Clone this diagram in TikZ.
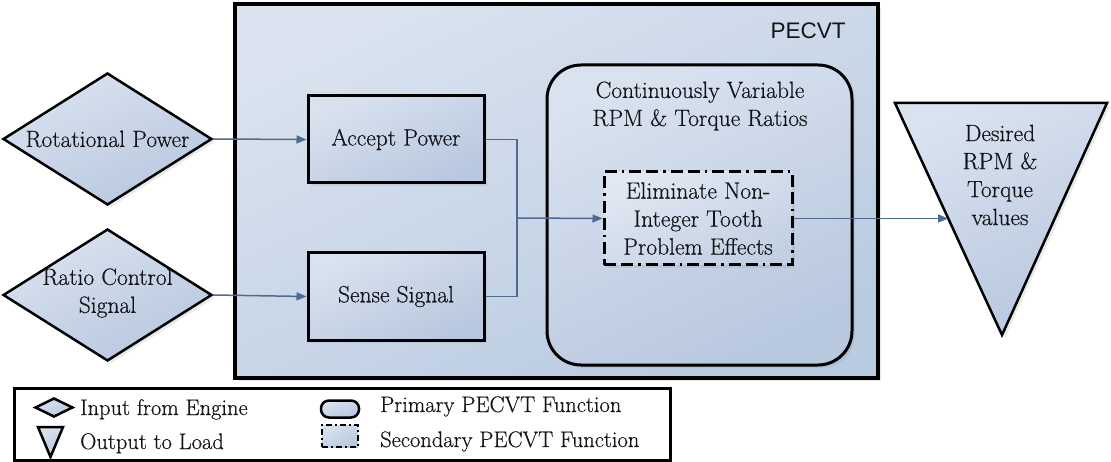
\documentclass[tikz,border=0pt]{standalone}
\usepackage{fontspec}
\newfontfamily\serifface{Latin Modern Roman}[UprightFeatures={FakeBold=0.45}]
\newfontfamily\sansface{Liberation Sans}
\usetikzlibrary{shapes.geometric,arrows.meta,calc,shadows}
\definecolor{fillhi}{HTML}{D9E2EF}
\definecolor{filllo}{HTML}{B8C8DF}
\definecolor{panelhi}{HTML}{DAE3EF}
\definecolor{panello}{HTML}{B9CBE1}
\definecolor{conn}{HTML}{4E6A92}
\definecolor{ink}{HTML}{141418}
\begin{document}
\begin{tikzpicture}[x=1pt,y=-1pt,
  font=\serifface\fontsize{23.5}{28}\selectfont, text=ink,
  shapefill/.style={top color=fillhi,bottom color=filllo,shading angle=25},
  softshadow/.style={drop shadow={opacity=0.16,shadow xshift=3pt,shadow yshift=-3pt}},
  funcbox/.style={rectangle,draw=black,line width=3pt,shapefill,softshadow,
    minimum width=176pt,minimum height=87pt,inner sep=0pt,align=center},
  inputdia/.style={diamond,draw=black,line width=2.5pt,shapefill,softshadow,
    minimum width=209pt,minimum height=132pt,inner sep=0pt},
  dashdot/.style={dash pattern=on 12pt off 5pt on 12pt off 5pt on 2.5pt off 5pt},
  flow/.style={draw=conn,line width=1.5pt},
  flowarrow/.style={flow,-{Triangle[length=10pt,width=8pt]}},
  legendtext/.style={anchor=base west,font=\serifface\fontsize{22.5}{26}\selectfont,inner sep=0pt},
]
% canvas
\useasboundingbox[fill=white] (0,0) rectangle (1111,462);

% the PECVT panel
\node[rectangle,draw=black,line width=3.5pt,top color=panelhi,bottom color=panello,
  shading angle=25,softshadow,minimum width=643pt,minimum height=374pt,inner sep=0pt]
  (pecvt) at (556.5,191) {};
\node[font=\sansface\fontsize{22.5}{26}\selectfont] (pecvtlbl) at (808,31) {PECVT};

% inputs from the engine
\node[inputdia] (rp) at (107.5,139) {};
\node[align=center] (rptxt) at (rp.center) {Rotational Power};
\node[inputdia] (rcs) at (107.5,295) {};
\node[align=center] (rcstxt) at (107.5,293) {Ratio Control\\Signal};

% front-end functions
\node[funcbox] (ap) at (396,139.5) {Accept Power};
\node[funcbox] (ss) at (396,296.5) {Sense Signal};

% primary function
\node[rectangle,draw=black,line width=3pt,rounded corners=34pt,shapefill,softshadow,
  minimum width=305pt,minimum height=300pt,inner sep=0pt] (cvt) at (699.5,215) {};
\node[align=center] (cvtlbl) at (700,106) {Continuously Variable\\RPM \& Torque Ratios};

% secondary function
\node[rectangle,draw=black,line width=3pt,dashdot,top color=fillhi!80!white,
  bottom color=filllo!85!white,shading angle=25,softshadow,
  minimum width=188pt,minimum height=93pt,inner sep=0pt,align=center]
  (elim) at (698,218.5) {Eliminate Non-\\Integer Tooth\\Problem Effects};

% output to the load
\coordinate (tl) at (895,103);
\coordinate (tr) at (1107,103);
\coordinate (tb) at (1002,335);
\path[draw=black,line width=2.5pt,line join=miter,shapefill,softshadow]
  (tl) -- (tr) -- (tb) -- cycle;
\node[align=center] (des) at (1000,175) {Desired\\RPM \&\\Torque\\values};
\coordinate (tin) at ($(tl)!0.496!(tb)$);

% connectors
\coordinate (jn) at (517,218);
\draw[flowarrow] (rp.east) -- (ap.west);
\draw[flowarrow] (rcs.east) -- (ss.west);
\draw[flow] (ap.east) -| (jn);
\draw[flow] (ss.east) -| (jn);
\draw[flowarrow] (jn) -- (elim.west);
\draw[flowarrow] (elim.east) -- (elim.east -| tin);

% legend
\node[rectangle,draw=black,line width=3pt,fill=white,minimum width=656pt,
  minimum height=72pt,inner sep=0pt] (legend) at (342,424) {};
\node[diamond,draw=black,line width=2.5pt,shapefill,minimum width=38pt,
  minimum height=19pt,inner sep=0pt] (kin) at (54,407.5) {};
\coordinate (ka) at (38,427);
\coordinate (kb) at (63,427);
\coordinate (kc) at (50.5,457);
\path[draw=black,line width=2.5pt,line join=miter,shapefill] (ka) -- (kb) -- (kc) -- cycle;
\node[rectangle,draw=black,line width=2.5pt,rounded corners=8pt,shapefill,
  minimum width=38pt,minimum height=17pt,inner sep=0pt] (kprim) at (340,409) {};
\node[rectangle,draw=black,line width=2.5pt,dash pattern=on 6pt off 3pt on 2pt off 3pt,
  shapefill,minimum width=36pt,minimum height=22pt,inner sep=0pt] (ksec) at (340,436) {};
\node[legendtext] (tin1) at (80,415) {Input from Engine};
\node[legendtext] (tout) at (80,449) {Output to Load};
\node[legendtext] (tprim) at (380,412) {Primary PECVT Function};
\node[legendtext] (tsec) at (380,447) {Secondary PECVT Function};
\end{tikzpicture}
\end{document}
